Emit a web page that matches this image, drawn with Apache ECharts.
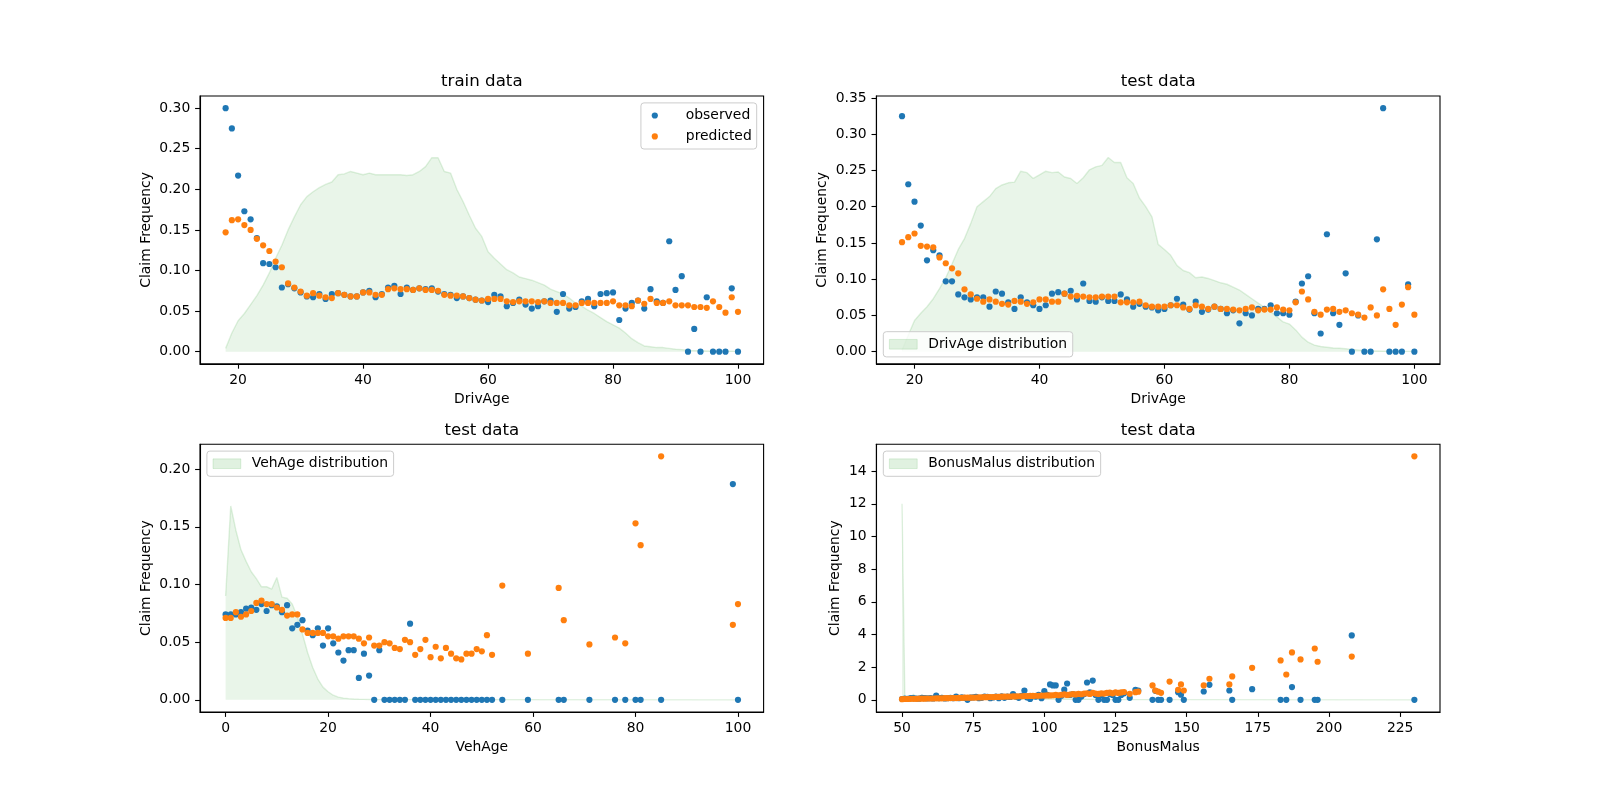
<!DOCTYPE html>
<html><head><meta charset="utf-8">
<script src="https://cdn.jsdelivr.net/npm/echarts@6/dist/echarts.min.js"></script>
<style>html,body{margin:0;padding:0;background:#fff}#c{width:1600px;height:800px}</style>
</head><body><div id="c"></div>
<script>
// ---------- Panel 1: train data, DrivAge ----------
const drivAges = [18,19,20,21,22,23,24,25,26,27,28,29,30,31,32,33,34,35,36,37,38,39,40,41,42,43,44,45,46,47,48,49,50,51,52,53,54,55,56,57,58,59,60,61,62,63,64,65,66,67,68,69,70,71,72,73,74,75,76,77,78,79,80,81,82,83,84,85,86,87,88,89,90,91,92,93,94,95,96,97,98,99,100];
const trainObserved = [0.300,0.275,0.217,0.173,0.163,0.140,0.109,0.108,0.104,0.079,0.083,0.078,0.073,0.068,0.067,0.071,0.065,0.071,0.072,0.070,0.068,0.068,0.073,0.075,0.067,0.071,0.079,0.081,0.071,0.079,0.076,0.078,0.077,0.078,0.074,0.071,0.070,0.066,0.068,0.066,0.064,0.063,0.061,0.070,0.068,0.056,0.060,0.064,0.058,0.053,0.056,0.062,0.063,0.049,0.071,0.053,0.055,0.062,0.065,0.056,0.071,0.072,0.073,0.039,0.053,0.060,0.063,0.053,0.077,0.062,0.060,0.136,0.076,0.093,0,0.028,0,0.067,0,0,0,0.078,0];
const trainPredicted = [0.147,0.162,0.163,0.156,0.150,0.139,0.131,0.124,0.111,0.104,0.084,0.079,0.074,0.069,0.072,0.069,0.067,0.066,0.072,0.070,0.068,0.068,0.073,0.073,0.070,0.070,0.077,0.078,0.077,0.077,0.076,0.078,0.076,0.076,0.075,0.070,0.069,0.069,0.068,0.066,0.064,0.063,0.065,0.065,0.065,0.062,0.061,0.062,0.062,0.062,0.061,0.062,0.060,0.060,0.060,0.057,0.057,0.060,0.060,0.060,0.060,0.060,0.062,0.057,0.057,0.056,0.063,0.059,0.065,0.060,0.060,0.062,0.057,0.057,0.057,0.055,0.055,0.054,0.062,0.055,0.048,0.067,0.049];
const trainDrivAgeDist = [0.004,0.023,0.038,0.047,0.058,0.069,0.082,0.097,0.115,0.131,0.150,0.166,0.181,0.191,0.197,0.202,0.206,0.209,0.218,0.219,0.222,0.220,0.218,0.220,0.218,0.218,0.218,0.218,0.218,0.217,0.218,0.222,0.228,0.239,0.239,0.222,0.220,0.200,0.185,0.168,0.152,0.142,0.123,0.115,0.108,0.101,0.097,0.092,0.090,0.088,0.085,0.082,0.077,0.074,0.071,0.066,0.060,0.056,0.051,0.047,0.042,0.037,0.033,0.029,0.023,0.016,0.011,0.007,0.006,0.005,0.005,0.004,0.003,0.0025,0.0016,0.0012,0.001,0.0008,0.0006,0.0005,0.0004,0.0004,0.0003];

// ---------- Panel 2: test data, DrivAge ----------
const testObserved = [0.325,0.231,0.207,0.174,0.126,0.140,0.133,0.097,0.097,0.079,0.075,0.072,0.075,0.075,0.062,0.083,0.080,0.068,0.059,0.075,0.068,0.064,0.059,0.064,0.080,0.082,0.080,0.084,0.072,0.094,0.070,0.069,0.075,0.070,0.070,0.079,0.072,0.062,0.066,0.062,0.061,0.057,0.059,0.064,0.073,0.065,0.058,0.069,0.055,0.058,0.062,0.059,0.053,0.057,0.039,0.053,0.050,0.059,0.059,0.064,0.053,0.053,0.051,0.069,0.094,0.104,0.053,0.025,0.162,0.053,0.037,0.108,0,0.050,0,0,0.155,0.336,0,0,0,0.093,0];
const testPredicted = [0.151,0.158,0.163,0.146,0.145,0.144,0.130,0.122,0.115,0.108,0.086,0.079,0.073,0.069,0.072,0.069,0.066,0.065,0.070,0.069,0.066,0.068,0.072,0.072,0.069,0.069,0.080,0.076,0.077,0.076,0.075,0.075,0.076,0.076,0.076,0.068,0.068,0.068,0.069,0.064,0.062,0.062,0.062,0.064,0.064,0.061,0.059,0.064,0.062,0.059,0.062,0.059,0.059,0.058,0.057,0.059,0.061,0.057,0.058,0.058,0.061,0.058,0.057,0.068,0.083,0.072,0.055,0.051,0.058,0.059,0.055,0.057,0.053,0.051,0.047,0.061,0.050,0.086,0.059,0.037,0.065,0.089,0.051];
const testDrivAgeDist = [0.002,0.023,0.043,0.053,0.062,0.073,0.087,0.102,0.121,0.141,0.156,0.177,0.200,0.207,0.214,0.225,0.230,0.233,0.234,0.249,0.247,0.239,0.244,0.249,0.247,0.248,0.241,0.239,0.232,0.240,0.251,0.255,0.257,0.268,0.261,0.261,0.240,0.232,0.212,0.200,0.186,0.148,0.141,0.133,0.119,0.112,0.109,0.102,0.103,0.101,0.098,0.095,0.093,0.089,0.085,0.079,0.073,0.067,0.061,0.055,0.048,0.041,0.038,0.030,0.020,0.013,0.009,0.007,0.006,0.005,0.0046,0.004,0.003,0.0023,0.0014,0.001,0.0008,0.0006,0.0005,0.0004,0.0004,0.0003,0.0003];

// ---------- Panel 3: test data, VehAge ----------
const vehAges = [0,1,2,3,4,5,6,7,8,9,10,11,12,13,14,15,16,17,18,19,20,21,22,23,24,25,26,27,28,29,30,31,32,33,34,35,36,37,38,39,40,41,42,43,44,45,46,47,48,49,50,51,52,54,59,65,66,71,76,78,80,81,85,99,100];
const vehObserved = [0.074,0.074,0.074,0.076,0.079,0.080,0.078,0.083,0.077,0.082,0.081,0.076,0.082,0.062,0.065,0.069,0.060,0.056,0.062,0.047,0.062,0.049,0.041,0.034,0.043,0.043,0.019,0.040,0.021,0,0.043,0,0,0,0,0,0.066,0,0,0,0,0,0,0,0,0,0,0,0,0,0,0,0,0,0,0,0,0,0,0,0,0,0,0.187,0];
const vehPredicted = [0.071,0.071,0.076,0.072,0.074,0.077,0.084,0.086,0.083,0.083,0.080,0.078,0.073,0.074,0.074,0.061,0.058,0.058,0.058,0.058,0.055,0.055,0.053,0.055,0.055,0.055,0.053,0.049,0.054,0.047,0.047,0.050,0.049,0.045,0.044,0.052,0.050,0.039,0.044,0.052,0.037,0.046,0.036,0.045,0.040,0.036,0.035,0.040,0.040,0.044,0.042,0.056,0.039,0.099,0.040,0.097,0.069,0.048,0.054,0.049,0.153,0.134,0.211,0.065,0.083];
const vehDistAges = [0,1,2,3,4,5,6,7,8,9,10,11,12,13,14,15,16,17,18,19,20,21,22,23,24,25,26,27,28,29,30,100];
const vehAgeDist = [0.09,0.168,0.147,0.130,0.120,0.111,0.105,0.098,0.098,0.096,0.106,0.089,0.088,0.083,0.072,0.057,0.041,0.028,0.018,0.011,0.007,0.004,0.0023,0.0015,0.001,0.0007,0.0005,0.0004,0.0003,0.0002,0.0002,0];

// ---------- Panel 4: test data, BonusMalus ----------
const bmValues = [50,51,52,53,54,55,56,57,58,59,60,61,62,63,64,65,66,67,68,69,70,71,72,73,74,75,76,77,78,79,80,81,82,83,84,85,86,87,88,89,90,91,92,93,94,95,96,97,98,99,100,101,102,103,104,105,106,107,108,109,110,111,112,113,114,115,116,117,118,119,120,121,122,123,124,125,126,127,128,130,132,133,138,139,140,141,144,147,148,149,156,158,165,166,173,183,185,187,190,195,196,208,230];
const bmObserved = [0.05,0.08,0.06,0.10,0.10,0.08,0.07,0.12,0.10,0.09,0.10,0.08,0.26,0.10,0.12,0.08,0.10,0.12,0.10,0.20,0.10,0.15,0.12,0.00,0.14,0.15,0.18,0.10,0.12,0.20,0.18,0.10,0.15,0.20,0.10,0.22,0.12,0.20,0.18,0.35,0.20,0.12,0.25,0.57,0.15,0.05,0.22,0.20,0.30,0.10,0.53,0.30,0.94,0.88,0.88,0.00,0.25,0.62,1.00,0.30,0.35,0.00,0.00,0.20,0.35,1.06,0.45,1.18,0.30,0,0.30,0,0,0.35,0.30,0,0,0.30,0.40,0.12,0.61,0.57,0,0.55,0,0,0,0.47,0.31,0,0.51,0.92,0.57,0,0.65,0,0,0.78,0,0,0,3.94,0];
const bmPredicted = [0.04,0.05,0.05,0.06,0.06,0.06,0.07,0.07,0.07,0.08,0.08,0.08,0.09,0.09,0.09,0.10,0.10,0.11,0.11,0.11,0.12,0.12,0.13,0.13,0.13,0.14,0.14,0.15,0.15,0.16,0.16,0.17,0.17,0.18,0.18,0.19,0.19,0.20,0.20,0.21,0.21,0.22,0.22,0.23,0.23,0.24,0.24,0.25,0.25,0.26,0.26,0.27,0.27,0.28,0.30,0.28,0.31,0.33,0.30,0.32,0.35,0.33,0.36,0.34,0.38,0.40,0.36,0.42,0.38,0.36,0.40,0.38,0.42,0.44,0.40,0.46,0.42,0.45,0.48,0.37,0.47,0.50,0.88,0.57,0.50,0.43,1.12,0.61,0.94,0.57,0.88,1.29,0.94,1.43,1.96,2.41,1.55,2.90,2.47,3.14,2.33,2.65,14.9];
const bmDistValues = [50,51,52,53,54,55,56,57,58,59,60,61,62,63,64,65,66,67,68,70,72,76,80,85,90,95,100,120,150,230];
const bonusMalusDist = [12.0,0.05,0.10,0.05,0.35,0.10,0.05,0.30,0.05,0.10,0.25,0.05,0.20,0.05,0.30,0.05,0.05,0.15,0.05,0.05,0.10,0.10,0.05,0.05,0.10,0.03,0.08,0.02,0.01,0.0];

// ---------- tick labels ----------
const drivAgeTicks = [20,40,60,80,100];
const vehAgeTicks = [0,20,40,60,80,100];
const bmTicks = [50,75,100,125,150,175,200,225];
const freqTicksTrain = [0.00,0.05,0.10,0.15,0.20,0.25,0.30];
const freqTicksTest = [0.00,0.05,0.10,0.15,0.20,0.25,0.30,0.35];
const freqTicksVeh = [0.00,0.05,0.10,0.15,0.20];
const freqTicksBM = [0,2,4,6,8,10,12,14];

const titles = ['train data','test data','test data','test data'];
const xNames = ['DrivAge','DrivAge','VehAge','BonusMalus'];
const yName = 'Claim Frequency';

// ---------- layout / style ----------
const BLUE = '#1f77b4', ORANGE = '#ff7f0e', GREEN = 'rgba(44,160,44,0.15)';
const FONT = '"DejaVu Sans", sans-serif';
const W = 563.6, H = 267.8;
const boxes = [[200,96],[876.4,96],[200,444.2],[876.4,444.2]];

function zip(a,b){return a.map((v,i)=>[v,b[i]]);}
function lim(){ const all=[].concat(...arguments); const lo=Math.min(...all), hi=Math.max(...all); const m=(hi-lo)*0.05; return [lo-m, hi+m]; }

const xLims = [lim(drivAges), lim(drivAges), lim(vehAges), lim(bmValues, bmDistValues)];
const yLims = [
  lim(trainObserved, trainPredicted, trainDrivAgeDist, [0]),
  lim(testObserved, testPredicted, testDrivAgeDist, [0]),
  lim(vehObserved, vehPredicted, vehAgeDist, [0]),
  lim(bmObserved, bmPredicted, bonusMalusDist, [0])
];
const xTicks = [drivAgeTicks, drivAgeTicks, vehAgeTicks, bmTicks];
const yTicks = [freqTicksTrain, freqTicksTest, freqTicksVeh, freqTicksBM];
const yFmt = [v=>v.toFixed(2), v=>v.toFixed(2), v=>v.toFixed(2), v=>String(Math.round(v))];
const yLabelX = [146.5, 822.5, 146.5, 835.5];

const axisCommon = (ticks, fmt) => ({
  type:'value',
  axisLine:{show:true, onZero:false, lineStyle:{color:'#000', width:1.1}},
  axisTick:{show:true, inside:false, length:4.9, lineStyle:{color:'#000', width:1.1}, customValues:ticks},
  axisLabel:{show:true, margin:9.7, color:'#000', fontSize:13.9, fontFamily:FONT, customValues:ticks, formatter:fmt},
  splitLine:{show:false}
});

const grid = boxes.map(b=>({left:b[0], top:b[1], width:W, height:H, show:true, borderColor:'#000', borderWidth:1.1, backgroundColor:'transparent'}));
const xAxis = boxes.map((b,i)=>Object.assign(axisCommon(xTicks[i], v=>String(Math.round(v))), {gridIndex:i, min:xLims[i][0], max:xLims[i][1]}));
const yAxis = boxes.map((b,i)=>Object.assign(axisCommon(yTicks[i], yFmt[i]), {gridIndex:i, min:yLims[i][0], max:yLims[i][1]}));

function areaSeries(i, name, xs, ys){
  return {type:'line', name, xAxisIndex:i, yAxisIndex:i, data:zip(xs,ys), symbol:'none', showSymbol:false, smooth:false,
    lineStyle:{color:GREEN, width:1.4}, itemStyle:{color:GREEN}, areaStyle:{color:GREEN, origin:'auto'}, z:1, silent:true};
}
function scat(i, name, xs, ys, color, z){
  return {type:'scatter', name, xAxisIndex:i, yAxisIndex:i, data:zip(xs,ys), symbol:'circle', symbolSize:6.2,
    itemStyle:{color, opacity:1}, z, silent:true};
}

const series = [
  areaSeries(0,'DrivAge distribution (train)', drivAges, trainDrivAgeDist),
  scat(0,'observed', drivAges, trainObserved, BLUE, 3),
  scat(0,'predicted', drivAges, trainPredicted, ORANGE, 4),
  areaSeries(1,'DrivAge distribution', drivAges, testDrivAgeDist),
  scat(1,'observed', drivAges, testObserved, BLUE, 3),
  scat(1,'predicted', drivAges, testPredicted, ORANGE, 4),
  areaSeries(2,'VehAge distribution', vehDistAges, vehAgeDist),
  scat(2,'observed', vehAges, vehObserved, BLUE, 3),
  scat(2,'predicted', vehAges, vehPredicted, ORANGE, 4),
  areaSeries(3,'BonusMalus distribution', bmDistValues, bonusMalusDist),
  scat(3,'observed', bmValues, bmObserved, BLUE, 3),
  scat(3,'predicted', bmValues, bmPredicted, ORANGE, 4)
];

const legendBase = {orient:'vertical', selectedMode:false, backgroundColor:'rgba(255,255,255,0.8)', borderColor:'#cccccc', borderWidth:1, borderRadius:3,
  padding:[5.6,5.6,5.6,5.6], itemGap:6.9, textStyle:{color:'#000', fontSize:13.9, fontFamily:FONT, lineHeight:14, padding:[0,0,0,6]}};
const patch = name => ({name, icon:'rect', itemStyle:{color:GREEN, borderColor:GREEN, borderWidth:1}});
const legend = [
  Object.assign({}, legendBase, {data:[{name:'observed',icon:'circle'},{name:'predicted',icon:'circle'}], right:1600-756.7, top:102.9, itemWidth:32.8, itemHeight:6.2,
    padding:[5.6,5,5.6,10.8], textStyle:Object.assign({}, legendBase.textStyle, {padding:[0,0,0,9.6]})}),
  Object.assign({}, legendBase, {data:[patch('DrivAge distribution')], left:883.3, bottom:800-356.9, itemWidth:27.8, itemHeight:9.7}),
  Object.assign({}, legendBase, {data:[patch('VehAge distribution')], left:206.9, top:451.1, itemWidth:27.8, itemHeight:9.7}),
  Object.assign({}, legendBase, {data:[patch('BonusMalus distribution')], left:883.3, top:451.1, itemWidth:27.8, itemHeight:9.7})
];

const graphic = [];
boxes.forEach((b,i)=>{
  graphic.push({type:'text', x:b[0]+W/2, y:b[1]-14, style:{text:titles[i], fill:'#000', font:'16.67px '+FONT, align:'center', verticalAlign:'middle'}});
  graphic.push({type:'text', x:b[0]+W/2, y:b[1]+H+35.3, style:{text:xNames[i], fill:'#000', font:'13.9px '+FONT, align:'center', verticalAlign:'middle'}});
  graphic.push({type:'text', x:yLabelX[i], y:b[1]+H/2, rotation:Math.PI/2, style:{text:yName, fill:'#000', font:'13.9px '+FONT, align:'center', verticalAlign:'middle'}});
});

const chart = echarts.init(document.getElementById('c'), null, {renderer:'canvas'});
chart.setOption({animation:false, backgroundColor:'#fff', grid, xAxis, yAxis, series, legend, graphic, tooltip:{show:false}});
</script></body></html>
